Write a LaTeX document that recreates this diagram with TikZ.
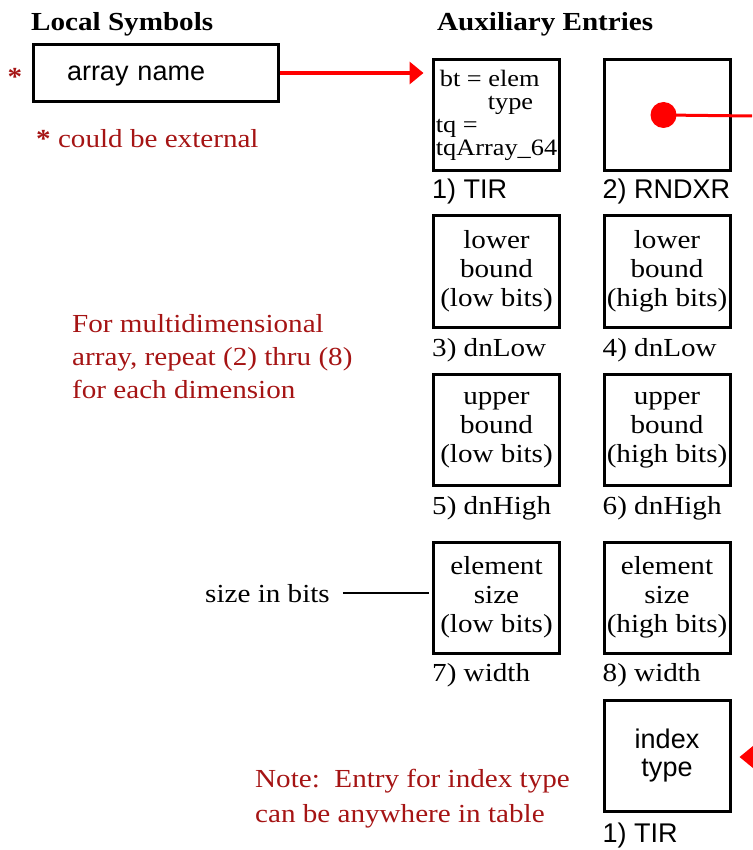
\documentclass[tikz,border=0pt]{standalone}
\usepackage{fontspec}
\setmainfont{Liberation Serif}[FakeStretch=1.12]
\newfontfamily\lisa{Liberation Sans}
\usetikzlibrary{arrows.meta,positioning}
\definecolor{notered}{RGB}{165,20,20}
\newcommand{\rmtext}{\fontsize{26}{29}\selectfont}
\newcommand{\sftext}{\lisa\fontsize{27}{28}\selectfont}

\begin{document}
\begin{tikzpicture}[x=1pt, y=-1pt,
    entry/.style={draw, line width=3pt, minimum width=126pt, minimum height=111pt,
                  inner sep=0pt, align=center, font=\rmtext},
    tag/.style={inner sep=0pt, font=\rmtext},
    note/.style={inner sep=0pt, align=left, text=notered, font=\rmtext},
    ptr/.style={red, line width=3.5pt, -{Triangle[length=14pt, width=22pt]}}]
  \useasboundingbox (0,0) rectangle (752,850);

  % --- local symbol table ---
  \node[tag, anchor=base west, font=\rmtext\bfseries] (hlocal) at (31,31) {Local Symbols};
  \node[draw, line width=3pt, minimum height=57pt, text width=177pt, align=left,
        text height=20pt, text depth=4pt,
        inner xsep=34pt, inner ysep=0pt, font=\sftext] (aname) at (155.5,73) {array name};
  \node[tag, text=notered, font=\rmtext\bfseries, anchor=base] (star) at (15,86) {*};
  \node[note, anchor=base west] (extern) at (36,148) {\textbf{*} could be external};

  % --- auxiliary entries ---
  \node[tag, anchor=base west, font=\rmtext\bfseries] (haux) at (437,31) {Auxiliary Entries};
  \node[entry, align=left, font=\fontsize{23.5}{23}\selectfont] (tir) at (496.5,115)
       {\hspace*{4pt}bt = elem\\\hspace*{52pt}type\\tq =\\tqArray\_64};
  \node[entry] (rndxr) at (667,115) {};
  \node[circle, fill=red, inner sep=0pt, minimum size=26pt] (dot) at (663.5,115) {};
  \node[entry] (lowlo) at (496.5,271.5) {lower\\bound\\(low bits)};
  \node[entry] (lowhi) at (667,271.5) {lower\\bound\\(high bits)};
  \node[entry] (uplo) at (496.5,430) {upper\\bound\\(low bits)};
  \node[entry] (uphi) at (667,430) {upper\\bound\\(high bits)};
  \node[entry] (wdlo) at (496.5,597.5) {element\\size\\(low bits)};
  \node[entry] (wdhi) at (667,597.5) {element\\size\\(high bits)};
  \node[entry, font=\sftext] (idx) at (667,756) {index\\type};

  % entry numbers under the boxes
  \node[tag, font=\sftext, below=26.5pt of tir.south west, anchor=base west] (ltir) {1) TIR};
  \node[tag, font=\sftext, below=26.5pt of rndxr.south west, anchor=base west] (lrndxr) {2) RNDXR};
  \node[tag, below=28pt of lowlo.south west, anchor=base west] (llowlo) {3) dnLow};
  \node[tag, below=28pt of lowhi.south west, anchor=base west] (llowhi) {4) dnLow};
  \node[tag, below=27.5pt of uplo.south west, anchor=base west] (luplo) {5) dnHigh};
  \node[tag, below=27.5pt of uphi.south west, anchor=base west] (luphi) {6) dnHigh};
  \node[tag, below=27pt of wdlo.south west, anchor=base west] (lwdlo) {7) width};
  \node[tag, below=27pt of wdhi.south west, anchor=base west] (lwdhi) {8) width};
  \node[tag, font=\sftext, below=29.5pt of idx.south west, anchor=base west] (lidx) {1) TIR};

  % pointers (both run off the right edge)
  \draw[ptr, shorten >=8.5pt] (aname.east) -- (aname.east -| tir.west);
  \coordinate (ptrout) at (752,116);
  \draw[red, line width=3pt] (dot.center) -- (ptrout);
  \coordinate (idxin) at (752,757);
  \draw[ptr, shorten >=8pt] (idxin) -- (idxin -| idx.east);

  % side remarks
  \node[tag, anchor=base west] (sizebits) at (205,602) {size in bits};
  \draw[line width=1.6pt, shorten <=13pt, shorten >=3.5pt] (sizebits.east) -- (sizebits.east -| wdlo.west);
  \node[note, anchor=north west, font=\fontsize{26}{33}\selectfont] (multidim) at (72,314.4)
       {For multidimensional\\array, repeat (2) thru (8)\\for each dimension};
  \node[note, anchor=north west, font=\fontsize{26}{35}\selectfont] (idxnote) at (255,769.4)
       {Note:\ \ Entry for index type\\can be anywhere in table};
\end{tikzpicture}
\end{document}
